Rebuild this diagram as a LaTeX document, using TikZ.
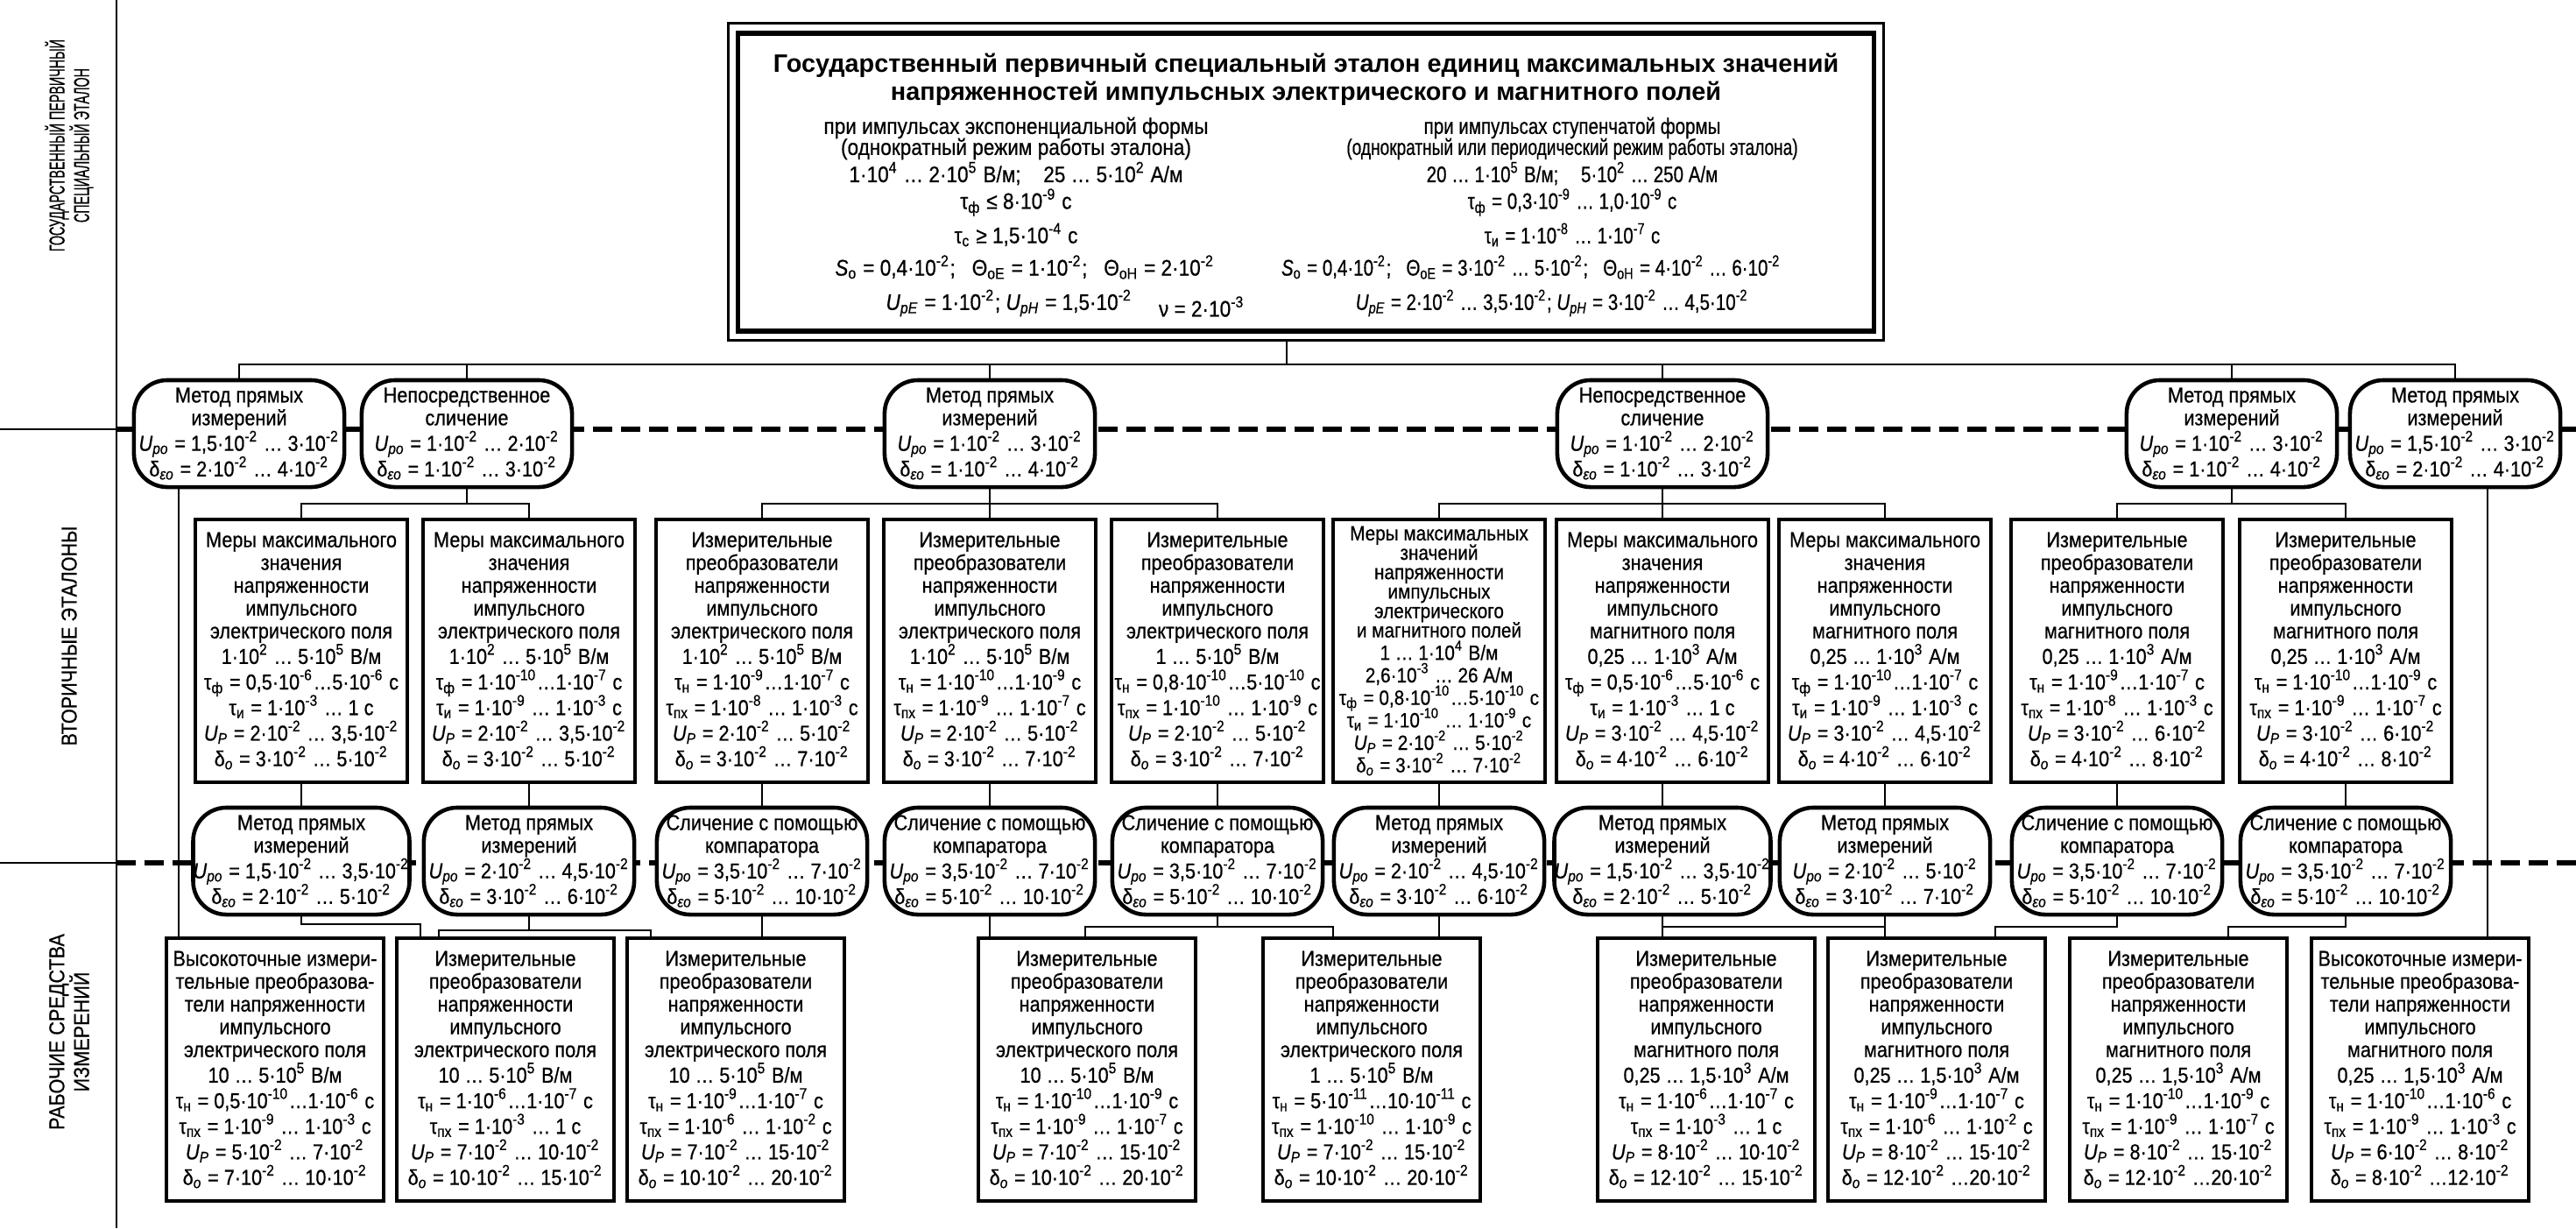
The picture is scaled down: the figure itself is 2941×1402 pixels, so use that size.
\documentclass[tikz,border=0pt]{standalone}
\usepackage{fontspec}
\setmainfont{Liberation Sans}[FakeStretch=0.88, FakeBold=0.6]
\newfontfamily\ttlfont{Liberation Sans}[FakeStretch=1.0]
\newfontfamily\rcolfont{Liberation Sans}[FakeStretch=0.80, FakeBold=0.6]
\usetikzlibrary{calc}
\newcommand\bodyfont{\fontsize{7}{7.4}\selectfont\lineskiplimit=-30pt\lineskip=0pt\relax}
\newcommand\tightfont{\fontsize{6.7}{6.3}\selectfont\lineskiplimit=-30pt\lineskip=0pt\relax}
\newcommand\ee[1]{·10\textsuperscript{#1}}
\newcommand\Upo{\textit{U}\textsubscript{\textit{po}}}
\newcommand\Dlo{δ\textsubscript{\textit{εо}}}
\newcommand\UP{\textit{U}\textsubscript{\textit{P}}}
\newcommand\Dlt{δ\textsubscript{\textit{о}}}
\newcommand\Tf{τ\textsubscript{ф}}
\newcommand\Ti{τ\textsubscript{и}}
\newcommand\Tn{τ\textsubscript{н}}
\newcommand\Tpx{τ\textsubscript{пх}}
\newcommand\Tc{τ\textsubscript{с}}
\newcommand\nl{\\[0.9pt]}
\newcommand\nt{\\[1.0pt]}
\newcommand\hMeE{Меры максимального\\значения\\напряженности\\импульсного\\электрического поля}
\newcommand\hMeH{Меры максимального\\значения\\напряженности\\импульсного\\магнитного поля}
\newcommand\hIzE{Измерительные\\преобразователи\\напряженности\\импульсного\\электрического поля}
\newcommand\hIzH{Измерительные\\преобразователи\\напряженности\\импульсного\\магнитного поля}
\newcommand\hVyE{Высокоточные измери-\\тельные преобразова-\\тели напряженности\\импульсного\\электрического поля}
\newcommand\hVyH{Высокоточные измери-\\тельные преобразова-\\тели напряженности\\импульсного\\магнитного поля}
\newcommand\mDir{Метод прямых\\измерений}
\newcommand\mNep{Непосредственное\\сличение}
\newcommand\mCmp{Сличение с помощью\\компаратора}
\tikzset{
  conn/.style={line width=0.8pt},
  sepl/.style={line width=1.6pt, dash pattern=on 0.22cm off 0.1cm},
  sboxst/.style={draw, line width=1.3pt, fill=white, minimum width=2.42cm, minimum height=3.0cm, inner sep=0pt, align=center, font=\bodyfont},
  bboxst/.style={sboxst, minimum width=2.48cm},
  ovst/.style={draw, line width=1.3pt, fill=white, rounded corners=0.38cm, minimum width=2.4cm, minimum height=1.22cm, inner sep=0pt, align=center, font=\bodyfont},
  lbl/.style={rotate=90, align=center, font=\fontsize{7}{8}\selectfont, inner sep=0pt},
  ttl/.style={font=\ttlfont\bfseries\fontsize{8.2}{9}\selectfont, inner sep=0pt},
  tl/.style={font=\fontsize{7.3}{8}\selectfont, inner sep=0pt},
  tr/.style={font=\rcolfont\fontsize{7.3}{8}\selectfont, inner sep=0pt},
}
\begin{document}
\begin{tikzpicture}[x=0.01cm,y=-0.01cm]
\useasboundingbox (0,0) rectangle (2941,1402);
% frame and separators
\draw[conn] (133,0) -- (133,1402);
\draw[conn] (0,490) -- (133,490);
\draw[conn] (0,985) -- (133,985);
\draw[sepl] (133,490) -- (2941,490);
\draw[sepl] (133,985) -- (2941,985);
\node[lbl] (lab1) at (79,166) {\scalebox{0.66}[1]{ГОСУДАРСТВЕННЫЙ ПЕРВИЧНЫЙ}\\\scalebox{0.66}[1]{СПЕЦИАЛЬНЫЙ ЭТАЛОН}};
\node[lbl] (lab2) at (79,726) {ВТОРИЧНЫЕ ЭТАЛОНЫ};
\node[lbl] (lab3) at (79,1178) {РАБОЧИЕ СРЕДСТВА\\ИЗМЕРЕНИЙ};
% top box
\node[draw, line width=0.9pt, minimum width=13.18cm, minimum height=3.61cm, inner sep=0pt] (topout) at (1491,207.5) {};
\node[draw, line width=1.6pt, minimum width=12.96cm, minimum height=3.40cm, inner sep=0pt] (top) at (1491,208) {};
\node[ttl] (t1) at (1491,75) {Государственный первичный специальный эталон единиц максимальных значений};
\node[ttl] (t2) at (1491,107) {напряженностей импульсных электрического и магнитного полей};
\node[tl] (l1) at (1160,146) {при импульсах экспоненциальной формы};
\node[tl] (l2) at (1160,170) {(однократный режим работы эталона)};
\node[tl] (l3) at (1160,198) {1\ee{4} … 2\ee{5} В/м;\quad 25 … 5\ee{2} А/м};
\node[tl] (l4) at (1160,231) {\Tf{} ≤ 8\ee{-9} с};
\node[tl] (l5) at (1160,268) {\Tc{} ≥ 1,5\ee{-4} с};
\node[tl] (l6) at (1170,305) {\textit{S}\textsubscript{о} = 0,4\ee{-2};\ \ \ Θ\textsubscript{оЕ} = 1\ee{-2};\ \ \ Θ\textsubscript{оН} = 2\ee{-2}};
\node[tl] (l7) at (1152,346) {\textit{U}\textsubscript{\textit{pE}} = 1\ee{-2}; \textit{U}\textsubscript{\textit{pH}} = 1,5\ee{-2}};
\node[tl] (nu) at (1372,350) {ν = 2\ee{-3}};
\node[tr] (r1) at (1795,146) {при импульсах ступенчатой формы};
\node[tr] (r2) at (1795,170) {\scalebox{0.93}[1]{(однократный или периодический режим работы эталона)}};
\node[tr] (r3) at (1795,198) {20 … 1\ee{5} В/м;\quad 5\ee{2} … 250 А/м};
\node[tr] (r4) at (1795,231) {\Tf{} = 0,3\ee{-9} … 1,0\ee{-9} с};
\node[tr] (r5) at (1795,268) {\Ti{} = 1\ee{-8} … 1\ee{-7} с};
\node[tr] (r6) at (1748,305) {\textit{S}\textsubscript{о} = 0,4\ee{-2};\ \ \ Θ\textsubscript{оЕ} = 3\ee{-2} … 5\ee{-2};\ \ \ Θ\textsubscript{оН} = 4\ee{-2} … 6\ee{-2}};
\node[tr] (r7) at (1772,346) {\textit{U}\textsubscript{\textit{pE}} = 2\ee{-2} … 3,5\ee{-2}; \textit{U}\textsubscript{\textit{pH}} = 3\ee{-2} … 4,5\ee{-2}};
% row 1 ovals
\node[ovst] (o1) at (273,495) {\mDir\nl\Upo{} = 1,5\ee{-2} … 3\ee{-2}\nl\Dlo{} = 2\ee{-2} … 4\ee{-2}};
\node[ovst] (o2) at (533,495) {\mNep\nl\Upo{} = 1\ee{-2} … 2\ee{-2}\nl\Dlo{} = 1\ee{-2} … 3\ee{-2}};
\node[ovst] (o3) at (1130,495) {\mDir\nl\Upo{} = 1\ee{-2} … 3\ee{-2}\nl\Dlo{} = 1\ee{-2} … 4\ee{-2}};
\node[ovst] (o4) at (1898,495) {\mNep\nl\Upo{} = 1\ee{-2} … 2\ee{-2}\nl\Dlo{} = 1\ee{-2} … 3\ee{-2}};
\node[ovst] (o5) at (2548,495) {\mDir\nl\Upo{} = 1\ee{-2} … 3\ee{-2}\nl\Dlo{} = 1\ee{-2} … 4\ee{-2}};
\node[ovst] (o6) at (2803,495) {\mDir\nl\Upo{} = 1,5\ee{-2} … 3\ee{-2}\nl\Dlo{} = 2\ee{-2} … 4\ee{-2}};
% secondary standards
\node[sboxst] (s1) at (344,743) {\hMeE\nl 1\ee{2} … 5\ee{5} В/м\nl \Tf{} = 0,5\ee{-6}…5\ee{-6} с\nl \Ti{} = 1\ee{-3} … 1 с\nl \UP{} = 2\ee{-2} … 3,5\ee{-2}\nl \Dlt{} = 3\ee{-2} … 5\ee{-2}};
\node[sboxst] (s2) at (604,743) {\hMeE\nl 1\ee{2} … 5\ee{5} В/м\nl \Tf{} = 1\ee{-10}…1\ee{-7} с\nl \Ti{} = 1\ee{-9} … 1\ee{-3} с\nl \UP{} = 2\ee{-2} … 3,5\ee{-2}\nl \Dlt{} = 3\ee{-2} … 5\ee{-2}};
\node[sboxst] (s3) at (870,743) {\hIzE\nl 1\ee{2} … 5\ee{5} В/м\nl \Tn{} = 1\ee{-9}…1\ee{-7} с\nl \Tpx{} = 1\ee{-8} … 1\ee{-3} с\nl \UP{} = 2\ee{-2} … 5\ee{-2}\nl \Dlt{} = 3\ee{-2} … 7\ee{-2}};
\node[sboxst] (s4) at (1130,743) {\hIzE\nl 1\ee{2} … 5\ee{5} В/м\nl \Tn{} = 1\ee{-10}…1\ee{-9} с\nl \Tpx{} = 1\ee{-9} … 1\ee{-7} с\nl \UP{} = 2\ee{-2} … 5\ee{-2}\nl \Dlt{} = 3\ee{-2} … 7\ee{-2}};
\node[sboxst] (s5) at (1390,743) {\hIzE\nl 1 … 5\ee{5} В/м\nl \Tn{} = 0,8\ee{-10}…5\ee{-10} с\nl \Tpx{} = 1\ee{-10} … 1\ee{-9} с\nl \UP{} = 2\ee{-2} … 5\ee{-2}\nl \Dlt{} = 3\ee{-2} … 7\ee{-2}};
\node[sboxst, font=\tightfont] (s6) at (1643,743) {Меры максимальных\\значений\\напряженности\\импульсных\\электрического\\и магнитного полей\nt 1 … 1\ee{4} В/м\nt 2,6\ee{-3} … 26 А/м\nt \Tf{} = 0,8\ee{-10}…5\ee{-10} с\nt \Ti{} = 1\ee{-10} … 1\ee{-9} с\nt \UP{} = 2\ee{-2} … 5\ee{-2}\nt \Dlt{} = 3\ee{-2} … 7\ee{-2}};
\node[sboxst] (s7) at (1898,743) {\hMeH\nl 0,25 … 1\ee{3} А/м\nl \Tf{} = 0,5\ee{-6}…5\ee{-6} с\nl \Ti{} = 1\ee{-3} … 1 с\nl \UP{} = 3\ee{-2} … 4,5\ee{-2}\nl \Dlt{} = 4\ee{-2} … 6\ee{-2}};
\node[sboxst] (s8) at (2152,743) {\hMeH\nl 0,25 … 1\ee{3} А/м\nl \Tf{} = 1\ee{-10}…1\ee{-7} с\nl \Ti{} = 1\ee{-9} … 1\ee{-3} с\nl \UP{} = 3\ee{-2} … 4,5\ee{-2}\nl \Dlt{} = 4\ee{-2} … 6\ee{-2}};
\node[sboxst] (s9) at (2417,743) {\hIzH\nl 0,25 … 1\ee{3} А/м\nl \Tn{} = 1\ee{-9}…1\ee{-7} с\nl \Tpx{} = 1\ee{-8} … 1\ee{-3} с\nl \UP{} = 3\ee{-2} … 6\ee{-2}\nl \Dlt{} = 4\ee{-2} … 8\ee{-2}};
\node[sboxst] (s10) at (2678,743) {\hIzH\nl 0,25 … 1\ee{3} А/м\nl \Tn{} = 1\ee{-10}…1\ee{-9} с\nl \Tpx{} = 1\ee{-9} … 1\ee{-7} с\nl \UP{} = 3\ee{-2} … 6\ee{-2}\nl \Dlt{} = 4\ee{-2} … 8\ee{-2}};
% row 2 ovals
\node[ovst] (p1) at (344,983) {\mDir\nl\Upo{} = 1,5\ee{-2} … 3,5\ee{-2}\nl\Dlo{} = 2\ee{-2} … 5\ee{-2}};
\node[ovst] (p2) at (604,983) {\mDir\nl\Upo{} = 2\ee{-2} … 4,5\ee{-2}\nl\Dlo{} = 3\ee{-2} … 6\ee{-2}};
\node[ovst] (p3) at (870,983) {\mCmp\nl\Upo{} = 3,5\ee{-2} … 7\ee{-2}\nl\Dlo{} = 5\ee{-2} … 10\ee{-2}};
\node[ovst] (p4) at (1130,983) {\mCmp\nl\Upo{} = 3,5\ee{-2} … 7\ee{-2}\nl\Dlo{} = 5\ee{-2} … 10\ee{-2}};
\node[ovst] (p5) at (1390,983) {\mCmp\nl\Upo{} = 3,5\ee{-2} … 7\ee{-2}\nl\Dlo{} = 5\ee{-2} … 10\ee{-2}};
\node[ovst] (p6) at (1643,983) {\mDir\nl\Upo{} = 2\ee{-2} … 4,5\ee{-2}\nl\Dlo{} = 3\ee{-2} … 6\ee{-2}};
\node[ovst] (p7) at (1898,983) {\mDir\nl\Upo{} = 1,5\ee{-2} … 3,5\ee{-2}\nl\Dlo{} = 2\ee{-2} … 5\ee{-2}};
\node[ovst] (p8) at (2152,983) {\mDir\nl\Upo{} = 2\ee{-2} … 5\ee{-2}\nl\Dlo{} = 3\ee{-2} … 7\ee{-2}};
\node[ovst] (p9) at (2417,983) {\mCmp\nl\Upo{} = 3,5\ee{-2} … 7\ee{-2}\nl\Dlo{} = 5\ee{-2} … 10\ee{-2}};
\node[ovst] (p10) at (2678,983) {\mCmp\nl\Upo{} = 3,5\ee{-2} … 7\ee{-2}\nl\Dlo{} = 5\ee{-2} … 10\ee{-2}};
% working instruments
\node[bboxst] (b1) at (314,1221) {\hVyE\nl 10 … 5\ee{5} В/м\nl \Tn{} = 0,5\ee{-10}…1\ee{-6} с\nl \Tpx{} = 1\ee{-9} … 1\ee{-3} с\nl \UP{} = 5\ee{-2} … 7\ee{-2}\nl \Dlt{} = 7\ee{-2} … 10\ee{-2}};
\node[bboxst] (b2) at (577,1221) {\hIzE\nl 10 … 5\ee{5} В/м\nl \Tn{} = 1\ee{-6}…1\ee{-7} с\nl \Tpx{} = 1\ee{-3} … 1 с\nl \UP{} = 7\ee{-2} … 10\ee{-2}\nl \Dlt{} = 10\ee{-2} … 15\ee{-2}};
\node[bboxst] (b3) at (840,1221) {\hIzE\nl 10 … 5\ee{5} В/м\nl \Tn{} = 1\ee{-9}…1\ee{-7} с\nl \Tpx{} = 1\ee{-6} … 1\ee{-2} с\nl \UP{} = 7\ee{-2} … 15\ee{-2}\nl \Dlt{} = 10\ee{-2} … 20\ee{-2}};
\node[bboxst] (b4) at (1241,1221) {\hIzE\nl 10 … 5\ee{5} В/м\nl \Tn{} = 1\ee{-10}…1\ee{-9} с\nl \Tpx{} = 1\ee{-9} … 1\ee{-7} с\nl \UP{} = 7\ee{-2} … 15\ee{-2}\nl \Dlt{} = 10\ee{-2} … 20\ee{-2}};
\node[bboxst] (b5) at (1566,1221) {\hIzE\nl 1 … 5\ee{5} В/м\nl \Tn{} = 5\ee{-11}…10\ee{-11} с\nl \Tpx{} = 1\ee{-10} … 1\ee{-9} с\nl \UP{} = 7\ee{-2} … 15\ee{-2}\nl \Dlt{} = 10\ee{-2} … 20\ee{-2}};
\node[bboxst] (b6) at (1948,1221) {\hIzH\nl 0,25 … 1,5\ee{3} А/м\nl \Tn{} = 1\ee{-6}…1\ee{-7} с\nl \Tpx{} = 1\ee{-3} … 1 с\nl \UP{} = 8\ee{-2} … 10\ee{-2}\nl \Dlt{} = 12\ee{-2} … 15\ee{-2}};
\node[bboxst] (b7) at (2211,1221) {\hIzH\nl 0,25 … 1,5\ee{3} А/м\nl \Tn{} = 1\ee{-9}…1\ee{-7} с\nl \Tpx{} = 1\ee{-6} … 1\ee{-2} с\nl \UP{} = 8\ee{-2} … 15\ee{-2}\nl \Dlt{} = 12\ee{-2} …20\ee{-2}};
\node[bboxst] (b8) at (2487,1221) {\hIzH\nl 0,25 … 1,5\ee{3} А/м\nl \Tn{} = 1\ee{-10}…1\ee{-9} с\nl \Tpx{} = 1\ee{-9} … 1\ee{-7} с\nl \UP{} = 8\ee{-2} … 15\ee{-2}\nl \Dlt{} = 12\ee{-2} …20\ee{-2}};
\node[bboxst] (b9) at (2763,1221) {\hVyH\nl 0,25 … 1,5\ee{3} А/м\nl \Tn{} = 1\ee{-10}…1\ee{-6} с\nl \Tpx{} = 1\ee{-9} … 1\ee{-3} с\nl \UP{} = 6\ee{-2} … 8\ee{-2}\nl \Dlt{} = 8\ee{-2} …12\ee{-2}};
% connectors: top level
\coordinate (bus0) at (0,416);
\coordinate (cx) at (1469,0);
\draw[conn] (topout.south -| cx) -- (cx |- bus0);
\draw[conn] (o1.north) |- (o6.north |- bus0) -- (o6.north);
\foreach \n in {o2,o3,o4,o5} \draw[conn] (\n.north) -- (\n.north |- bus0);
% row 1 to secondary
\coordinate (bus1) at (0,575);
\draw[conn] (o2.south) -- (o2.south |- bus1);
\draw[conn] (s1.north) |- (s2.north |- bus1) -- (s2.north);
\draw[conn] (o3.south) -- (s4.north);
\draw[conn] (s3.north) |- (s5.north |- bus1) -- (s5.north);
\draw[conn] (o4.south) -- (s7.north);
\draw[conn] (s6.north) |- (s8.north |- bus1) -- (s8.north);
\draw[conn] (o5.south) -- (o5.south |- bus1);
\draw[conn] (s9.north) |- (s10.north |- bus1) -- (s10.north);
% long side lines
\coordinate (xl) at (204,0);
\coordinate (xr) at (2840,0);
\draw[conn] (o1.south -| xl) -- (b1.north -| xl);
\draw[conn] (o6.south -| xr) -- (b9.north -| xr);
% secondary to row 2 ovals
\foreach \i in {1,...,10} \draw[conn] (s\i.south) -- (p\i.north);
% row 2 ovals to working instruments
\coordinate (k1) at (480,1055);
\draw[conn] (p1.south) |- (k1) -- (k1 |- b2.north);
\coordinate (k2) at (501,1062);
\coordinate (k3) at (743,1062);
\draw[conn] (p2.south) -- (p2.south |- k2);
\draw[conn] (k2 |- b2.north) -- (k2) -- (k3) -- (k3 |- b3.north);
\draw[conn] (p3.south) -- (p3.south |- b3.north);
\draw[conn] (p4.south) -- (p4.south |- b4.north);
\coordinate (k4) at (1239,1058);
\coordinate (k5) at (1522,1058);
\draw[conn] (p5.south) -- (p5.south |- k4);
\draw[conn] (k4 |- b4.north) -- (k4) -- (k5) -- (k5 |- b5.north);
\draw[conn] (p6.south) -- (p6.south |- b5.north);
\draw[conn] (p7.south) -- (p7.south |- b6.north);
\draw[conn] (p7.south |- k4) -- (p8.south |- k4);
\draw[conn] (p8.south) -- (p8.south |- b7.north);
\coordinate (k6) at (2278,1058);
\draw[conn] (p9.south) |- (k6) -- (k6 |- b7.north);
\coordinate (k7) at (2544,1058);
\draw[conn] (p10.south) |- (k7) -- (k7 |- b8.north);
\end{tikzpicture}
\end{document}
